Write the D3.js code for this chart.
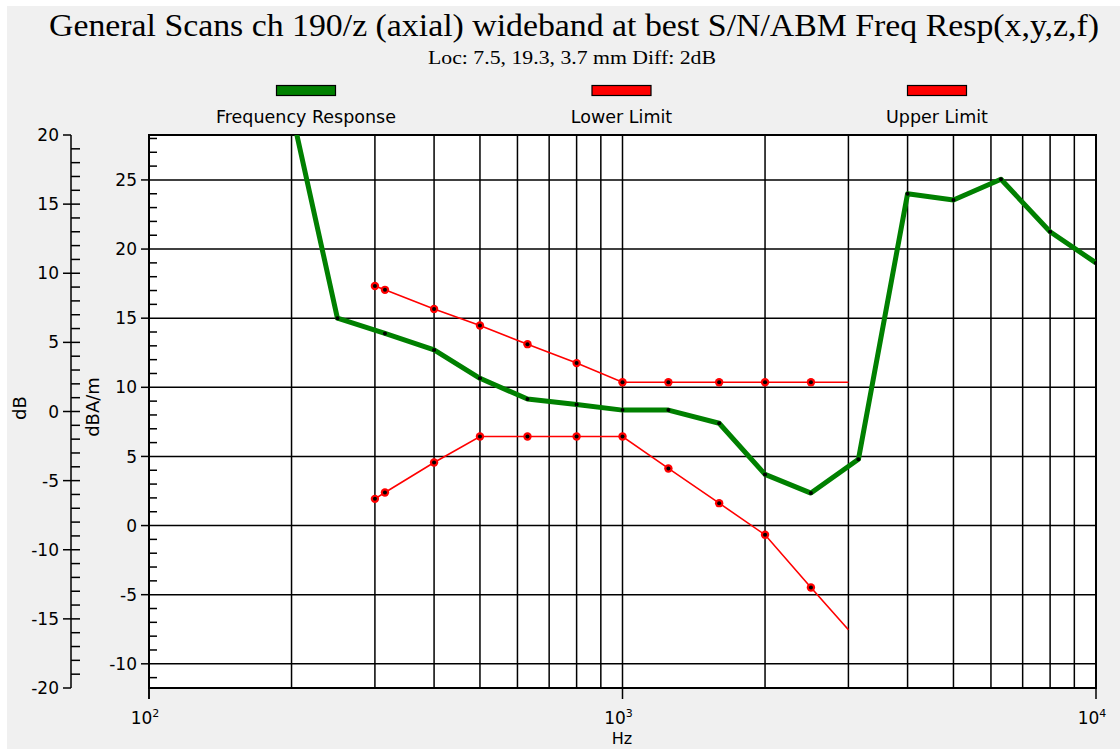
<!DOCTYPE html>
<html>
<head>
<meta charset="utf-8">
<script src="https://cdn.jsdelivr.net/npm/d3@7"></script>
<style>
  html, body { margin: 0; padding: 0; background: #fff; }
  svg { display: block; }
  text { font-family: "DejaVu Sans", sans-serif; fill: #000; }
</style>
</head>
<body>
<div class="wrapper"></div>
<script>
const width = 1120;
const height = 749;

// Frequency response (1/3 octave bands)
const respFreq = [200, 250, 315, 400, 500, 630, 800, 1000, 1250, 1600, 2000, 2500, 3150, 4000, 5000, 6300, 8000, 10000];
const respVal = [30.0, 15.0, 13.9, 12.7, 10.65, 9.15, 8.75, 8.35, 8.35, 7.4, 3.7, 2.35, 4.8, 24.0, 23.55, 25.05, 21.25, 19.0];

// limit curves
const limitFreq = [300, 315, 400, 500, 630, 800, 1000, 1250, 1600, 2000, 2500, 3000];
const upperVal = [17.33, 17.05, 15.67, 14.47, 13.12, 11.75, 10.37, 10.37, 10.37, 10.37, 10.37, 10.37];
const lowerVal = [1.93, 2.39, 4.56, 6.44, 6.44, 6.44, 6.44, 4.13, 1.62, -0.67, -4.48, -7.54];

const legendNames = ["Frequency Response", "Lower Limit", "Upper Limit"];
const legendColors = ["#008000", "#ff0000", "#ff0000"];

const leftTicks = [-20, -15, -10, -5, 0, 5, 10, 15, 20];
const rightTicks = [-10, -5, 0, 5, 10, 15, 20, 25];
const decades = [100, 1000, 10000];
const decadeExp = ["2", "3", "4"];

const plot = { left: 149, right: 1096, top: 135, bottom: 688 };

const x = d3.scaleLog().domain([100, 10000]).range([plot.left, plot.right]);
const yR = d3.scaleLinear().domain([-11.75, 28.25]).range([plot.bottom, plot.top]);
const yL = d3.scaleLinear().domain([-20, 20]).range([plot.bottom, plot.top]);

const svg = d3.select(".wrapper").append("svg")
  .attr("width", width).attr("height", height)
  .attr("viewBox", [0, 0, width, height]);

svg.append("rect").attr("x", 7).attr("y", 6).attr("width", width - 7).attr("height", height - 6)
  .attr("fill", "#f0f0f0");

// titles
svg.append("text").attr("x", 574).attr("y", 36).attr("text-anchor", "middle")
  .style("font-family", "'Liberation Serif', serif").style("font-size", "32px")
  .attr("textLength", 1050).attr("lengthAdjust", "spacingAndGlyphs")
  .text("General Scans ch 190/z (axial) wideband at best S/N/ABM Freq Resp(x,y,z,f)");
svg.append("text").attr("x", 572).attr("y", 64).attr("text-anchor", "middle")
  .style("font-family", "'Liberation Serif', serif").style("font-size", "18px")
  .attr("textLength", 288).attr("lengthAdjust", "spacingAndGlyphs")
  .text("Loc: 7.5, 19.3, 3.7 mm Diff: 2dB");

// legend
const legend = svg.append("g").selectAll("g").data(legendNames).join("g")
  .attr("transform", (d, i) => `translate(${306 + i * 315.5},0)`);
legend.append("rect").attr("x", -29.5).attr("y", 85.5).attr("width", 59).attr("height", 10)
  .attr("fill", (d, i) => legendColors[i]).attr("stroke", "#000").attr("stroke-width", 1.2);
legend.append("text").attr("y", 123).attr("text-anchor", "middle").style("font-size", "17.5px")
  .text(d => d);

// plot background
svg.append("rect").attr("x", plot.left).attr("y", plot.top)
  .attr("width", plot.right - plot.left).attr("height", plot.bottom - plot.top).attr("fill", "#fff");

// grid
const grid = svg.append("g").attr("stroke", "#000").attr("stroke-width", 1.5);
const vFreqs = [];
for (const dec of [100, 1000]) for (let k = 2; k <= 9; k++) vFreqs.push(dec * k);
vFreqs.push(1000);
grid.selectAll(".v").data(vFreqs).join("line").attr("class", "v")
  .attr("x1", d => x(d)).attr("x2", d => x(d)).attr("y1", plot.top).attr("y2", plot.bottom);
grid.selectAll(".h").data(rightTicks).join("line").attr("class", "h")
  .attr("x1", plot.left).attr("x2", plot.right).attr("y1", d => yR(d)).attr("y2", d => yR(d));
grid.append("rect").attr("x", plot.left).attr("y", plot.top)
  .attr("width", plot.right - plot.left).attr("height", plot.bottom - plot.top)
  .attr("fill", "none").attr("stroke-width", 2);

// right (dBA/m) axis
const rAxis = svg.append("g").attr("stroke", "#000").attr("stroke-width", 1.5);
rAxis.append("line").attr("x1", plot.left).attr("x2", plot.left).attr("y1", plot.top).attr("y2", plot.bottom + 11);
rAxis.selectAll(".maj").data(rightTicks).join("line").attr("class", "maj")
  .attr("x1", plot.left - 8).attr("x2", plot.left).attr("y1", d => yR(d)).attr("y2", d => yR(d));
rAxis.selectAll(".min").data(d3.range(-11, 29).filter(v => v % 5 !== 0)).join("line").attr("class", "min")
  .attr("x1", plot.left).attr("x2", plot.left + 8).attr("y1", d => yR(d)).attr("y2", d => yR(d));
svg.append("g").selectAll("text").data(rightTicks).join("text")
  .attr("x", 137).attr("y", d => yR(d)).attr("dy", "0.36em").attr("text-anchor", "end")
  .style("font-size", "17px").text(d => d);

// left (dB) axis
const lx = 71;
const lAxis = svg.append("g").attr("stroke", "#000").attr("stroke-width", 1.5);
lAxis.append("line").attr("x1", lx).attr("x2", lx).attr("y1", yL(20)).attr("y2", yL(-20));
lAxis.selectAll(".maj").data(leftTicks).join("line").attr("class", "maj")
  .attr("x1", lx - 8).attr("x2", d => (d === 20 || d === -20) ? lx : lx + 9)
  .attr("y1", d => yL(d)).attr("y2", d => yL(d));
lAxis.selectAll(".min").data(d3.range(-19, 20).filter(v => v % 5 !== 0)).join("line").attr("class", "min")
  .attr("x1", lx).attr("x2", lx + 9).attr("y1", d => yL(d)).attr("y2", d => yL(d));
svg.append("g").selectAll("text").data(leftTicks).join("text")
  .attr("x", 59).attr("y", d => yL(d)).attr("dy", "0.36em").attr("text-anchor", "end")
  .style("font-size", "17px").text(d => d);

// x axis ticks + labels
svg.append("g").attr("stroke", "#000").attr("stroke-width", 1.5)
  .selectAll("line").data(decades).join("line")
  .attr("x1", d => x(d)).attr("x2", d => x(d)).attr("y1", plot.bottom).attr("y2", plot.bottom + 11);
const xl = svg.append("g").selectAll("text").data(decades).join("text")
  .attr("x", d => x(d) - 4).attr("y", 724).attr("text-anchor", "middle").style("font-size", "17px");
xl.append("tspan").text("10");
xl.append("tspan").attr("dy", -7).style("font-size", "11px").text((d, i) => decadeExp[i]);

// axis titles
svg.append("text").attr("x", 622).attr("y", 744).attr("text-anchor", "middle").style("font-size", "16px").text("Hz");
svg.append("text").attr("transform", "translate(26,408) rotate(-90)").attr("text-anchor", "middle")
  .style("font-size", "18px").text("dB");
svg.append("text").attr("transform", "translate(99,407) rotate(-90)").attr("text-anchor", "middle")
  .style("font-size", "18px").text("dBA/m");

// clip
svg.append("clipPath").attr("id", "clip").append("rect")
  .attr("x", plot.left).attr("y", plot.top).attr("width", plot.right - plot.left).attr("height", plot.bottom - plot.top);
const series = svg.append("g").attr("clip-path", "url(#clip)");

const line = d3.line().x(d => x(d[0])).y(d => yR(d[1]));

const limits = [d3.zip(limitFreq, upperVal), d3.zip(limitFreq, lowerVal)];
for (const pts of limits) {
  series.append("path").datum(pts).attr("d", line)
    .attr("fill", "none").attr("stroke", "#ff0000").attr("stroke-width", 1.6);
  const dots = pts.slice(0, -1);
  series.append("g").selectAll("circle").data(dots).join("circle")
    .attr("cx", d => x(d[0])).attr("cy", d => yR(d[1])).attr("r", 4.2).attr("fill", "#ff0000");
  series.append("g").selectAll("circle").data(dots).join("circle")
    .attr("cx", d => x(d[0])).attr("cy", d => yR(d[1])).attr("r", 2).attr("fill", "#000");
}

const resp = d3.zip(respFreq, respVal);
series.append("path").datum(resp).attr("d", line)
  .attr("fill", "none").attr("stroke", "#008000").attr("stroke-width", 5).attr("stroke-linejoin", "round");
series.append("g").selectAll("circle").data(resp).join("circle")
  .attr("cx", d => x(d[0])).attr("cy", d => yR(d[1])).attr("r", 2).attr("fill", "#000");
</script>
</body>
</html>
